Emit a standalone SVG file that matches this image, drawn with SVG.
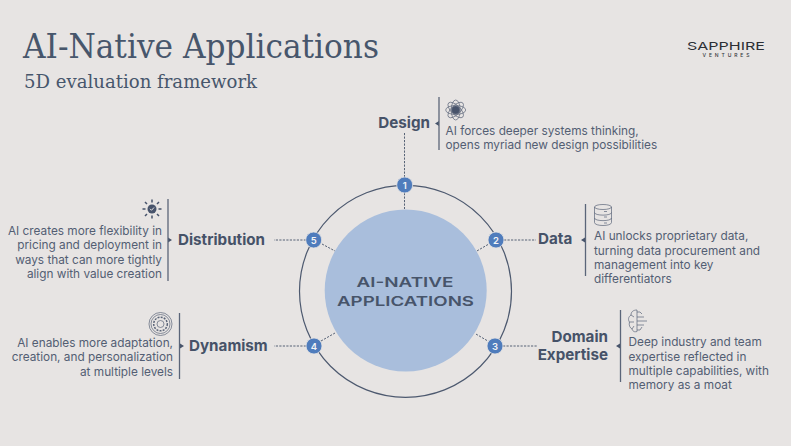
<svg xmlns="http://www.w3.org/2000/svg" width="791" height="446" viewBox="0 0 791 446">
<style>
text{font-family:Inter,"Liberation Sans",sans-serif;fill:#4a5568}
.ti{font-family:"DejaVu Serif",serif;fill:#47566c}
.lab{font-size:15.2px;font-weight:700;fill:#465268}
.body{font-size:11.8px;fill:#535e73}
.end{text-anchor:end}
.mid{text-anchor:middle}
.num{font-size:9.5px;font-weight:600;fill:#f4f4f6;text-anchor:middle}
.dash{stroke:#46536a;stroke-width:.9;stroke-dasharray:2.2 1.3;fill:none}
.bar{stroke:#5b6579;stroke-width:1.3}
.ring{fill:none;stroke:#4d596f;stroke-width:1.2}
.dot{fill:#4f7cbc;stroke:#e7e4e3;stroke-width:.8}
.ico{fill:none;stroke:#5a6478;stroke-width:.7}
.head{fill:#46536a}
</style>
<rect width="791" height="446" fill="#e7e4e3"/>
<g id="title">
<text class="ti" x="23" y="57.500" font-size="33" textLength="356" lengthAdjust="spacingAndGlyphs">AI-Native Applications</text>
<text class="ti" x="24" y="88" font-size="19" textLength="233" lengthAdjust="spacingAndGlyphs">5D evaluation framework</text>
</g>
<g id="logo">
<text x="726" y="50" class="mid" font-size="11" font-weight="400" style="fill:#2c2f35" textLength="78" lengthAdjust="spacingAndGlyphs">SAPPHIRE</text>
<text x="726" y="56.500" class="mid" font-size="5" font-weight="500" style="fill:#33363c" textLength="47" lengthAdjust="spacing">VENTURES</text>
</g>
<g id="connectors">
<path class="dash" d="M404.500 133V177M404.500 193V209"/>
<path class="dash" d="M504 240H536M488 244.500L476 251.500M503 346H537M487 340.500L475 333.500M306 346H274M321 341L335 333M306 240H274M322 244L335 251"/>
<path class="head" d="M435 123.500l4-2.500v5zM581 240l4-2.500v5zM616 346l4-2.500v5zM172 240l-4-2.500v5zM184 346l-4-2.500v5z"/>
</g>
<g id="hub">
<circle class="ring" cx="405.500" cy="291.300" r="106"/>
<circle cx="405.700" cy="290.500" r="81" fill="#a9bedc"/>
<text x="405" y="287" class="mid" font-size="13.500" font-weight="600" style="fill:#47546a" textLength="97" lengthAdjust="spacingAndGlyphs">AI-NATIVE</text>
<text x="405.500" y="306" class="mid" font-size="13.500" font-weight="600" style="fill:#47546a" textLength="137" lengthAdjust="spacingAndGlyphs">APPLICATIONS</text>
</g>
<g id="node-1">
<circle class="dot" cx="404.700" cy="185" r="8"/><text class="num" x="404.700" y="188.500">1</text>
<text class="lab end" x="430" y="128">Design</text>
<line class="bar" x1="439" y1="97" x2="439" y2="150"/>
<g class="ico" transform="translate(455.700 110)"><circle r="4" fill="#47536b"/><ellipse rx="10" ry="4.500"/><ellipse rx="10" ry="4.500" transform="rotate(45)"/><ellipse rx="10" ry="4.500" transform="rotate(90)"/><ellipse rx="10" ry="4.500" transform="rotate(135)"/></g>
<text class="body" x="445.500" y="135">AI forces deeper systems thinking,</text>
<text class="body" x="445.500" y="149">opens myriad new design possibilities</text>
</g>
<g id="node-2">
<circle class="dot" cx="496" cy="240" r="8"/><text class="num" x="496" y="243.500">2</text>
<text class="lab" x="538" y="244">Data</text>
<line class="bar" x1="585.500" y1="204" x2="585.500" y2="276"/>
<g class="ico"><ellipse cx="603" cy="207" rx="8.500" ry="2.500"/><path d="M594.500 207V222.500C594.500 226.500 611.500 226.500 611.500 222.500V207M594.500 212.500C594.500 216 611.500 216 611.500 212.500M594.500 218C594.500 221.500 611.500 221.500 611.500 218M604 211.500h3M604 217h3M604 223h3"/></g>
<text class="body" x="594" y="240">AI unlocks proprietary data,</text>
<text class="body" x="594" y="254.500">turning data procurement and</text>
<text class="body" x="594" y="268.500">management into key</text>
<text class="body" x="594" y="283">differentiators</text>
</g>
<g id="node-3">
<circle class="dot" cx="495" cy="346" r="8"/><text class="num" x="495" y="349.500">3</text>
<text class="lab end" x="608" y="342">Domain</text>
<text class="lab end" x="608" y="360">Expertise</text>
<line class="bar" x1="620.500" y1="310" x2="620.500" y2="382"/>
<g class="ico"><path d="M637 310C633 310 631 312 631 315C628 317 628 320 629.500 322C628.500 325 630 328 632 329C633 332 635 332 637 331.500V310ZM631 315L634 317M629.500 322H634M632 329L634 326M637 312H640L642 314M637 317H644M637 321H647M637 325H644M637 330H640L642 327"/></g>
<text class="body" x="628.500" y="346">Deep industry and team</text>
<text class="body" x="628.500" y="360.500">expertise reflected in</text>
<text class="body" x="628.500" y="374.500">multiple capabilities, with</text>
<text class="body" x="628.500" y="389">memory as a moat</text>
</g>
<g id="node-4">
<circle class="dot" cx="314" cy="346" r="8"/><text class="num" x="314" y="349.500">4</text>
<text class="lab" x="189" y="350.500">Dynamism</text>
<line class="bar" x1="179.500" y1="313" x2="179.500" y2="379"/>
<g class="ico" transform="translate(160.500 324)"><circle r="11.500"/><circle r="9.500"/><circle r="6.800" stroke-dasharray="2 1.200" stroke-width="1.500"/><circle r="3.500"/></g>
<text class="body end" x="173" y="347">AI enables more adaptation,</text>
<text class="body end" x="173" y="361">creation, and personalization</text>
<text class="body end" x="173" y="375.500">at multiple levels</text>
</g>
<g id="node-5">
<circle class="dot" cx="313.700" cy="240" r="8"/><text class="num" x="313.700" y="243.500">5</text>
<text class="lab" x="178" y="244.500">Distribution</text>
<line class="bar" x1="168" y1="199" x2="168" y2="281"/>
<g transform="translate(152 209)"><circle r="4.500" fill="#47536b"/><path d="M-2-.2L-.5 1.300L2-1.500" stroke="#e7e4e3" stroke-width="1" fill="none"/><path d="M0-9.500V-6.500M0 6.500V9.500M-9.500 0H-6.500M6.500 0H9.500M-7-7L-5-5M5 5L7 7M-7 7L-5 5M5-5L7-7" stroke="#47536b" stroke-width="1.500" fill="none"/></g>
<text class="body end" x="162" y="235">AI creates more flexibility in</text>
<text class="body end" x="162" y="249">pricing and deployment in</text>
<text class="body end" x="162" y="263.500">ways that can more tightly</text>
<text class="body end" x="162" y="277.500">align with value creation</text>
</g>
</svg>
